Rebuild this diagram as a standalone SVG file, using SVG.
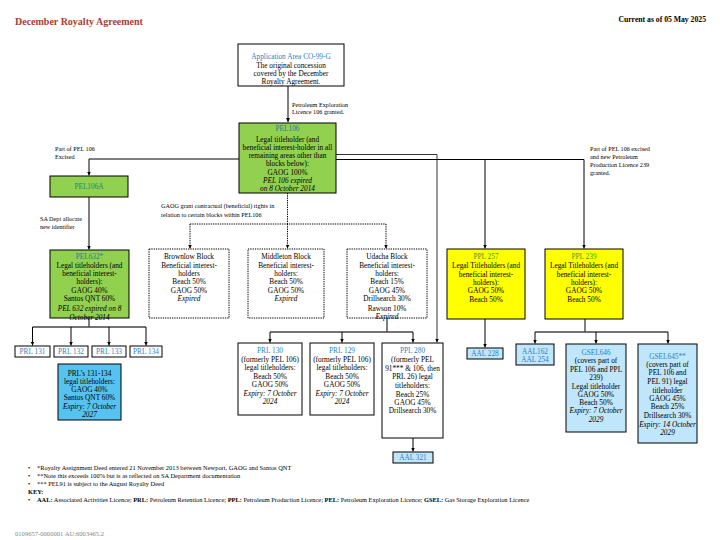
<svg xmlns="http://www.w3.org/2000/svg" width="720" height="540" viewBox="0 0 720 540">
<style>
text{font-family:"Liberation Serif","Times New Roman",serif;fill:#000}
.t{font-size:7.3px;text-anchor:middle}
.h{fill:#2f7fc0}
.hg{fill:#1f7f90}
.hy{fill:#3a9e3a}
.i{font-style:italic}
.lbl{font-size:6.2px}
.fn{font-size:6.4px}
.box{stroke:#000;stroke-width:1}
.green{fill:#92d050}
.yellow{fill:#ffff00}
.white{fill:#fff}
.lblue{fill:#bfe6fa}
.dblue{fill:#55c2f0}
.dash{fill:#fff;stroke:#000;stroke-width:1;stroke-dasharray:1.3 1}
.c{fill:none;stroke:#000;stroke-width:1}
.cg{fill:none;stroke:#444;stroke-width:1.3}
.cd{fill:none;stroke:#000;stroke-width:1;stroke-dasharray:1.3 1}
</style>
<defs>
<marker id="a" viewBox="0 0 6 6" refX="6" refY="3" markerWidth="4" markerHeight="4" markerUnits="userSpaceOnUse" orient="auto">
<path d="M0,0 L6,3 L0,6 Z" fill="#000"/>
</marker>
</defs>
<rect width="720" height="540" fill="#fff"/>
<text x="15" y="25" style="font-size:10px;font-weight:bold;fill:#b23a32">December Royalty Agreement</text>
<text x="706" y="22" style="font-size:7.7px;font-weight:bold;text-anchor:end">Current as of 05 May 2025</text>

<g id="connectors">
<path class="c" d="M288,86 V122" marker-end="url(#a)"/>
<path class="c" d="M239,159 H89 V175.5" marker-end="url(#a)"/>
<path class="c" d="M89,197 V249.5" marker-end="url(#a)"/>
<path class="c" d="M336,159.5 H584 V248.5" marker-end="url(#a)"/>
<path class="c" d="M485,159.5 V248.5" marker-end="url(#a)"/>
<path class="c" style="stroke-width:0.8" d="M336,154.5 H437 V342.5" marker-end="url(#a)"/>
<path class="cd" d="M287.5,193 V224 M190,224 H386"/>
<path class="cd" d="M190,224 V248.5" marker-end="url(#a)"/>
<path class="cd" d="M287.5,224 V248.5" marker-end="url(#a)"/>
<path class="cd" d="M386,224 V248.5" marker-end="url(#a)"/>
<path class="c" d="M89,318 V327"/>
<path class="cg" d="M32.5,327 H146"/>
<path class="c" d="M32.5,327 V345.5" marker-end="url(#a)"/>
<path class="c" d="M71,327 V345.5" marker-end="url(#a)"/>
<path class="c" d="M109,327 V345.5" marker-end="url(#a)"/>
<path class="c" d="M146,327 V345.5" marker-end="url(#a)"/>
<path class="c" d="M387,318 V332"/>
<path class="cg" d="M270,332 H413"/>
<path class="c" d="M270,332 V342.5" marker-end="url(#a)"/>
<path class="c" d="M342,332 V342.5" marker-end="url(#a)"/>
<path class="c" d="M413,332 V342.5" marker-end="url(#a)"/>
<path class="c" d="M413,438 V451.5" marker-end="url(#a)"/>
<path class="c" d="M485,319 V347.5" marker-end="url(#a)"/>
<path class="c" d="M585,319 V332"/>
<path class="cg" d="M535,332 H668"/>
<path class="c" d="M535,332 V343.5" marker-end="url(#a)"/>
<path class="c" d="M596,332 V343.5" marker-end="url(#a)"/>
<path class="c" d="M668,332 V343.5" marker-end="url(#a)"/>
</g>

<g id="labels">
<text class="lbl" x="292" y="106.5">Petroleum Exploration</text>
<text class="lbl" x="292" y="113.5">Licence 106 granted.</text>
<text class="lbl" x="55" y="151">Part of PEL 106</text>
<text class="lbl" x="55" y="159">Excised</text>
<text class="lbl" x="40" y="221">SA Dept allocate</text>
<text class="lbl" x="40" y="229">new identifier</text>
<text class="lbl" x="161" y="208">GAOG grant contractual (beneficial) rights in</text>
<text class="lbl" x="161" y="216.5">relation to certain blocks  within PEL106</text>
<text class="lbl" x="590" y="151">Part of PEL 106 excised</text>
<text class="lbl" x="590" y="159">and new Petroleum</text>
<text class="lbl" x="590" y="167">Production Licence 239</text>
<text class="lbl" x="590" y="175">granted.</text>
</g>

<g id="app-area">
<rect class="box white" x="238" y="44" width="106" height="42"/>
<text class="t h" x="291" y="59">Application Area CO-99-G</text>
<text class="t" x="291" y="67.5">The original concession</text>
<text class="t" x="291" y="76">covered by the December</text>
<text class="t" x="291" y="84.3">Royalty Agreement.</text>
</g>

<g id="pel106">
<rect class="box green" x="239" y="123" width="97" height="70"/>
<text class="t hg" x="287.5" y="130.5">PEL106</text>
<text class="t" x="287.5" y="141.5">Legal titleholder (and</text>
<text class="t" x="287.5" y="149.8">beneficial interest-holder in all</text>
<text class="t" x="287.5" y="158.1">remaining areas other than</text>
<text class="t" x="287.5" y="166.4">blocks below):</text>
<text class="t" x="287.5" y="174.7">GAOG 100%</text>
<text class="t i" x="287.5" y="183">PEL 106 expired</text>
<text class="t i" x="287.5" y="191.3">on 8 October 2014</text>
</g>

<g id="pel106a">
<rect class="box green" x="50" y="176" width="78" height="21"/>
<text class="t hg" x="89" y="189">PEL106A</text>
</g>

<g id="pel632">
<rect class="box green" x="50" y="250" width="79" height="68"/>
<text class="t hg" x="89.5" y="259">PEL632*</text>
<text class="t" x="89.5" y="267.5">Legal titleholders (and</text>
<text class="t" x="89.5" y="276">beneficial interest-</text>
<text class="t" x="89.5" y="284">holders):</text>
<text class="t" x="89.5" y="292.5">GAOG 40%</text>
<text class="t" x="89.5" y="301">Santos QNT 60%</text>
<text class="t i" x="89.5" y="311">PEL 632 expired on 8</text>
<text class="t i" x="89.5" y="319.5">October 2014</text>
</g>

<g id="brownlow">
<rect class="dash" x="149" y="249" width="80" height="69"/>
<text class="t" x="189" y="259">Brownlow Block</text>
<text class="t" x="189" y="267.5">Beneficial interest-</text>
<text class="t" x="189" y="276">holders</text>
<text class="t" x="189" y="284">Beach 50%</text>
<text class="t" x="189" y="292.5">GAOG 50%</text>
<text class="t i" x="189" y="301">Expired</text>
</g>

<g id="middleton">
<rect class="dash" x="248" y="249" width="76" height="69"/>
<text class="t" x="286" y="259">Middleton Block</text>
<text class="t" x="286" y="267.5">Beneficial interest-</text>
<text class="t" x="286" y="276">holders:</text>
<text class="t" x="286" y="284">Beach 50%</text>
<text class="t" x="286" y="292.5">GAOG 50%</text>
<text class="t i" x="286" y="301">Expired</text>
</g>

<g id="udacha">
<rect class="dash" x="347" y="249" width="80" height="69"/>
<text class="t" x="387" y="259">Udacha Block</text>
<text class="t" x="387" y="267.5">Beneficial interest-</text>
<text class="t" x="387" y="276">holders:</text>
<text class="t" x="387" y="284">Beach 15%</text>
<text class="t" x="387" y="292.5">GAOG 45%</text>
<text class="t" x="387" y="301">Drillsearch 30%</text>
<text class="t" x="387" y="311">Rawson 10%</text>
<text class="t i" x="387" y="319">Expired</text>
</g>

<g id="ppl257">
<rect class="box yellow" x="447" y="249" width="78" height="70"/>
<text class="t hy" x="486" y="259">PPL 257</text>
<text class="t" x="486" y="267.5">Legal Titleholders (and</text>
<text class="t" x="486" y="276.5">beneficial interest-</text>
<text class="t" x="486" y="285">holders):</text>
<text class="t" x="486" y="293">GAOG 50%</text>
<text class="t" x="486" y="301.5">Beach 50%</text>
</g>

<g id="ppl239">
<rect class="box yellow" x="545" y="249" width="78" height="70"/>
<text class="t hy" x="584" y="259">PPL 239</text>
<text class="t" x="584" y="267.5">Legal Titleholders (and</text>
<text class="t" x="584" y="276.5">beneficial interest-</text>
<text class="t" x="584" y="285">holders):</text>
<text class="t" x="584" y="293">GAOG 50%</text>
<text class="t" x="584" y="301.5">Beach 50%</text>
</g>

<g id="prl131">
<rect class="box white" x="15" y="346" width="35" height="11"/>
<text class="t h" x="32.5" y="354.3">PRL 131</text>
</g>
<g id="prl132">
<rect class="box white" x="54" y="346" width="34" height="11"/>
<text class="t h" x="71" y="354.3">PRL 132</text>
</g>
<g id="prl133">
<rect class="box white" x="92" y="346" width="34" height="11"/>
<text class="t h" x="109" y="354.3">PRL 133</text>
</g>
<g id="prl134">
<rect class="box white" x="130" y="346" width="32" height="11"/>
<text class="t h" x="146" y="354.3">PRL 134</text>
</g>

<g id="prl131-134">
<rect class="box dblue" x="58" y="364" width="63" height="56"/>
<text class="t" x="89.5" y="376">PRL’s 131-134</text>
<text class="t" x="89.5" y="383.5">legal titleholders:</text>
<text class="t" x="89.5" y="392">GAOG 40%</text>
<text class="t" x="89.5" y="400">Santos QNT 60%</text>
<text class="t i" x="89.5" y="408.5">Expiry: 7 October</text>
<text class="t i" x="89.5" y="417">2027</text>
</g>

<g id="prl130">
<rect class="box white" x="238" y="343" width="64" height="72"/>
<text class="t h" x="270" y="353.2">PRL 130</text>
<text class="t" x="270" y="361.5">(formerly PEL 106)</text>
<text class="t" x="270" y="369.8">legal titleholders:</text>
<text class="t" x="270" y="378.5">Beach 50%</text>
<text class="t" x="270" y="386.8">GAOG 50%</text>
<text class="t i" x="270" y="395.8">Expiry: 7 October</text>
<text class="t i" x="270" y="404.2">2024</text>
</g>

<g id="prl129">
<rect class="box white" x="310" y="343" width="64" height="72"/>
<text class="t h" x="342" y="353.2">PRL 129</text>
<text class="t" x="342" y="361.5">(formerly PEL 106)</text>
<text class="t" x="342" y="369.8">legal titleholders:</text>
<text class="t" x="342" y="378.5">Beach 50%</text>
<text class="t" x="342" y="386.8">GAOG 50%</text>
<text class="t i" x="342" y="395.8">Expiry: 7 October</text>
<text class="t i" x="342" y="404.2">2024</text>
</g>

<g id="ppl280">
<rect class="box white" x="382" y="343" width="61" height="95"/>
<text class="t h" x="412.5" y="353.2">PPL 280</text>
<text class="t" x="412.5" y="361.5">(formerly PEL</text>
<text class="t" x="412.5" y="370.8">91*** &amp; 106, then</text>
<text class="t" x="412.5" y="379.2">PRL 26) legal</text>
<text class="t" x="412.5" y="387.5">titleholders:</text>
<text class="t" x="412.5" y="396.5">Beach 25%</text>
<text class="t" x="412.5" y="405.2">GAOG 45%</text>
<text class="t" x="412.5" y="413.2">Drillsearch 30%</text>
</g>

<g id="aal321">
<rect class="box lblue" x="393" y="452" width="40" height="11"/>
<text class="t h" x="413" y="460.3">AAL 321</text>
</g>

<g id="aal228">
<rect class="box lblue" x="467" y="348" width="36" height="11"/>
<text class="t h" x="485" y="356.3">AAL 228</text>
</g>

<g id="aal162">
<rect class="box lblue" x="516" y="344" width="38" height="21"/>
<text class="t h" x="535" y="353.5">AAL162</text>
<text class="t h" x="535" y="362">AAL 254</text>
</g>

<g id="gsel646">
<rect class="box lblue" x="566" y="344" width="60" height="88"/>
<text class="t h" x="596" y="355.2">GSEL646</text>
<text class="t" x="596" y="363.2">(covers part of</text>
<text class="t" x="596" y="371.8">PEL 106 and PPL</text>
<text class="t" x="596" y="380.2">239)</text>
<text class="t" x="596" y="388.5">Legal titleholder</text>
<text class="t" x="596" y="396.5">GAOG 50%</text>
<text class="t" x="596" y="404.8">Beach 50%</text>
<text class="t i" x="596" y="413.2">Expiry: 7 October</text>
<text class="t i" x="596" y="421.5">2029</text>
</g>

<g id="gsel645">
<rect class="box lblue" x="638" y="344" width="59" height="99"/>
<text class="t h" x="667.5" y="358.5">GSEL645**</text>
<text class="t" x="667.5" y="366.8">(covers part of</text>
<text class="t" x="667.5" y="375.2">PEL 106 and</text>
<text class="t" x="667.5" y="383.5">PEL 91) legal</text>
<text class="t" x="667.5" y="392.5">titleholder</text>
<text class="t" x="667.5" y="400.8">GAOG 45%</text>
<text class="t" x="667.5" y="409.2">Beach 25%</text>
<text class="t" x="667.5" y="417.5">Drillsearch 30%</text>
<text class="t i" x="667.5" y="426.5">Expiry: 14 October</text>
<text class="t i" x="667.5" y="434.8">2029</text>
</g>

<g id="footnotes">
<text class="fn" x="28" y="470">•</text>
<text class="fn" x="37" y="470">*Royalty Assignment Deed entered 21 November 2013 between Newport, GAOG and Santos QNT</text>
<text class="fn" x="28" y="478">•</text>
<text class="fn" x="37" y="478">**Note this exceeds 100% but is as reflected on SA Department documentation</text>
<text class="fn" x="28" y="486">•</text>
<text class="fn" x="37" y="486">*** PEL91 is subject to the August Royalty Deed</text>
<text class="fn" x="28" y="494" style="font-weight:bold">KEY:</text>
<text class="fn" x="28" y="502">•</text>
<text class="fn" x="37" y="502"><tspan font-weight="bold">AAL:</tspan> Associated Activities Licence; <tspan font-weight="bold">PRL:</tspan> Petroleum Retention Licence; <tspan font-weight="bold">PPL:</tspan> Petroleum Production Licence; <tspan font-weight="bold">PEL:</tspan> Petroleum Exploration Licence; <tspan font-weight="bold">GSEL:</tspan> Gas Storage Exploration Licence</text>
<text x="15" y="536" style="font-size:6.6px;fill:#888">0109657-0000001 AU:6003465.2</text>
</g>
</svg>
